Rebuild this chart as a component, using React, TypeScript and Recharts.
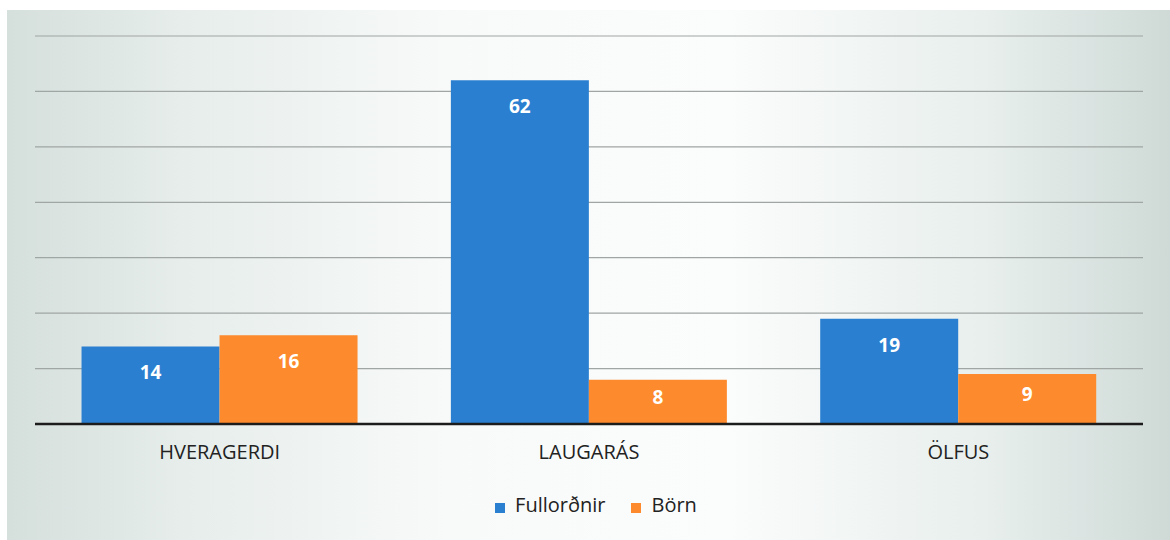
import React from 'react'
import { BarChart, Bar, XAxis, YAxis, CartesianGrid, Legend, LabelList } from 'recharts'

const categories = ['HVERAGERDI', 'LAUGARÁS', 'ÖLFUS']
const fullordnir = [14, 62, 19]
const born = [16, 8, 9]
const yTicks = [0, 10, 20, 30, 40, 50, 60, 70]
const seriesOrder = ['Fullorðnir', 'Börn']

const data = categories.map((name, i) => ({ name, fullordnir: fullordnir[i], born: born[i] }))

const FONT = '"Open Sans", Lato, sans-serif'

// label sits near the top of the bar, but is pulled down to the middle on short bars
const InsideLabel = (props: any) => {
  const { x, y, width, height, value } = props
  const cy = y + Math.min(26, height / 2 - 5)
  return (
    <text
      x={x + width / 2}
      y={cy}
      textAnchor="middle"
      dominantBaseline="central"
      fill="#ffffff"
      fontWeight="bold"
      fontSize={19}
      fontFamily={FONT}
    >
      {value}
    </text>
  )
}

export default function App() {
  return (
    <div style={{ position: 'absolute', left: 0, top: 0, width: 1170, height: 540, background: '#ffffff', overflow: 'hidden' }}>
      <div
        style={{
          position: 'absolute',
          left: 7,
          top: 10,
          width: 1163,
          height: 530,
          background: 'linear-gradient(90deg, #d5dfdc 0%, #e6edeb 15%, #f8faf9 38%, #fbfcfc 62%, #e8efed 84%, #cfdad7 100%)'
        }}
      />
      <div style={{ position: 'absolute', left: 0, top: 0 }}>
        <BarChart
          width={1170}
          height={540}
          data={data}
          margin={{ top: 36, right: 27, left: 35, bottom: 25 }}
          barCategoryGap="12.6%"
          barGap={0}
        >
          <CartesianGrid horizontal vertical={false} stroke="#9fa6a4" strokeWidth={1.2} />
          <XAxis
            dataKey="name"
            axisLine={{ stroke: '#1c1c1c', strokeWidth: 2.5 }}
            tickLine={false}
            tickMargin={15}
            height={64}
            tick={{ fontSize: 20, fill: '#222222', fontFamily: FONT }}
          />
          <YAxis
            domain={[0, 70]}
            ticks={yTicks}
            width={0}
            tick={{ fill: 'transparent', fontSize: 1 }}
            axisLine={false}
            tickLine={false}
          />
          <Legend
            verticalAlign="bottom"
            iconType="square"
            iconSize={10}
            wrapperStyle={{ bottom: 22, paddingLeft: 20 }}
            itemSorter={(item: any) => seriesOrder.indexOf(item.value)}
            formatter={(v: string) => (
              <span style={{ color: '#222222', fontSize: 20, fontFamily: FONT, marginLeft: 6, marginRight: 16 }}>{v}</span>
            )}
          />
          <Bar dataKey="fullordnir" name="Fullorðnir" fill="#2a7fd0" isAnimationActive={false}>
            <LabelList dataKey="fullordnir" content={InsideLabel} />
          </Bar>
          <Bar dataKey="born" name="Börn" fill="#fd8a2c" isAnimationActive={false}>
            <LabelList dataKey="born" content={InsideLabel} />
          </Bar>
        </BarChart>
      </div>
    </div>
  )
}
